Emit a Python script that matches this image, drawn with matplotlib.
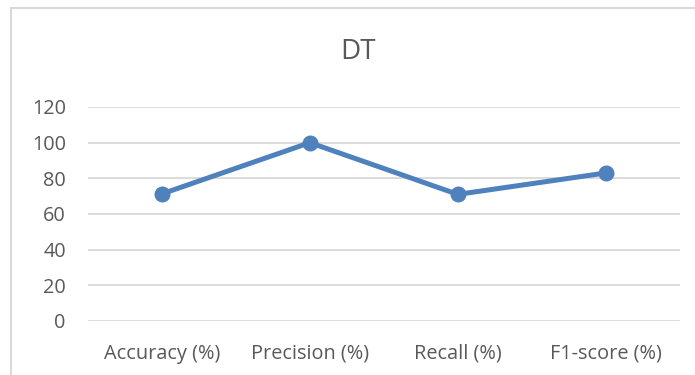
import matplotlib.pyplot as plt
from matplotlib.patches import Rectangle

plt.rcParams['font.family'] = ['Open Sans', 'DejaVu Sans']

metrics = ['Accuracy (%)', 'Precision (%)', 'Recall (%)', 'F1-score (%)']
scores = [71.3, 100, 71, 83]
yticks = [0, 20, 40, 60, 80, 100, 120]

fig = plt.figure(figsize=(6.95, 3.75), dpi=100)
ax = fig.add_axes([0.1266, 0.144, 0.8514, 0.5707])

# chart area frame (light grey, only top and left edges show)
fig.patches.append(Rectangle((11 / 695, -0.05), 1.0, 1 - 8 / 375 + 0.05,
                             transform=fig.transFigure, fill=False,
                             edgecolor='#d9d9d9', linewidth=1.5))

x = range(len(metrics))
ax.plot(x, scores, color='#4f81bd', linewidth=3.6, marker='o',
        markersize=10.5, solid_capstyle='round', zorder=3)

ax.set_xlim(-0.5, len(metrics) - 0.5)
ax.set_ylim(0, 120)
ax.set_yticks(yticks)
ax.set_xticks(list(x))
ax.set_xticklabels(metrics)
ax.grid(axis='y', color='#d9d9d9', linewidth=1.3)
ax.set_axisbelow(True)
for s in ax.spines.values():
    s.set_visible(False)
ax.tick_params(axis='both', length=0, labelsize=14.3, colors='#595959')
ax.tick_params(axis='y', pad=16)
ax.tick_params(axis='x', pad=16.5)

fig.text(0.515, 0.862, 'DT', ha='center', va='center', fontsize=20,
         color='#595959')

fig.savefig('out.png', dpi=100)
